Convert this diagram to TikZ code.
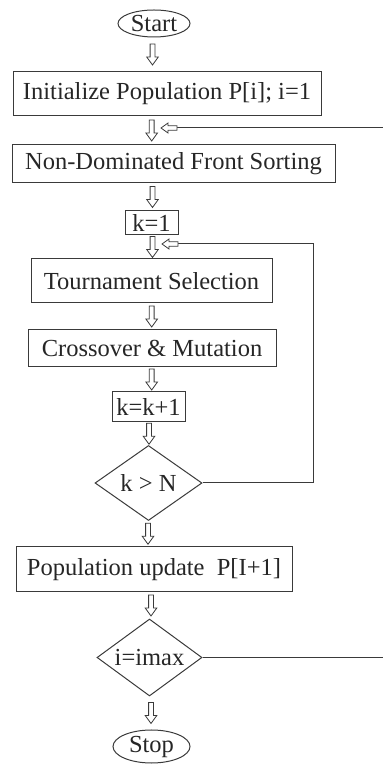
\documentclass[tikz,border=0pt]{standalone}
\usepackage{fontspec}
\setmainfont{Liberation Serif}
\usetikzlibrary{shapes.geometric,calc}
\definecolor{linec}{HTML}{3A3A3A}
\definecolor{txtc}{HTML}{262626}
\newcommand\fsz{\fontsize{24.5}{28}\selectfont}
% hollow block arrow pointing down, centred between two nodes, at x = #3
\newcommand\barrow[3]{%
  \draw[blk] let \p1=(#1.south), \p2=(#2.north), \n1={(\y1+\y2)/2} in
   ({#3pt-2.4pt},{\n1+10.5pt}) -- ({#3pt-2.4pt},{\n1-2.5pt}) --
   ({#3pt-5.8pt},{\n1-2.5pt}) -- ({#3pt},{\n1-10.5pt}) --
   ({#3pt+5.8pt},{\n1-2.5pt}) -- ({#3pt+2.4pt},{\n1-2.5pt}) --
   ({#3pt+2.4pt},{\n1+10.5pt}) -- cycle;}
% hollow block arrow pointing left, tail at coordinate #1
\newcommand\larrow[1]{%
  \draw[blk] let \p1=(#1) in
   (\x1,{\y1+2.2pt}) -- ({\x1-9pt},{\y1+2.2pt}) -- ({\x1-9pt},{\y1+5pt}) --
   ({\x1-16pt},\y1) -- ({\x1-9pt},{\y1-5pt}) -- ({\x1-9pt},{\y1-2.2pt}) --
   (\x1,{\y1-2.2pt}) -- cycle;}
\tikzset{
  box/.style={draw=linec, line width=1pt, inner sep=0pt, text=txtc, font=\fsz},
  term/.style={box, ellipse},
  dec/.style={box, diamond, aspect=1.43},
  blk/.style={draw=linec, line width=0.8pt, fill=white, line join=miter},
  link/.style={draw=linec, line width=1pt}
}
\begin{document}
\begin{tikzpicture}[x=1pt,y=1pt]
\useasboundingbox (0,0) rectangle (383,766);
\node[term, minimum width=72, minimum height=27] (start) at (154,742.5) {Start};
\node[box, minimum width=308, minimum height=44] (init) at (167,672) {Initialize Population P[i]; i=1};
\node[box, minimum width=323, minimum height=38] (nd) at (173.5,602) {Non-Dominated Front Sorting};
\node[box, minimum width=53, minimum height=24] (k1) at (151.5,543) {k=1};
\node[box, minimum width=241, minimum height=44] (tour) at (151.5,485) {Tournament Selection};
\node[box, minimum width=248, minimum height=37] (cross) at (152,417.5) {Crossover \& Mutation};
\node[box, minimum width=73, minimum height=30] (kk) at (148.5,359) {k=k+1};
\node[dec, minimum width=107, minimum height=75] (d1) at (148.5,283) {k > N};
\node[box, minimum width=276, minimum height=45] (pop) at (154,196.5) {Population update\ \ P[I+1]};
\node[dec, minimum width=105, minimum height=77] (d2) at (149.5,108.5) {i=imax};
\node[term, minimum width=77, minimum height=33] (stop) at (151.5,19.5) {Stop};

\barrow{start}{init}{152.5}
\barrow{init}{nd}{151.7}
\barrow{nd}{k1}{152.5}
\barrow{k1}{tour}{152.5}
\barrow{tour}{cross}{151.7}
\barrow{cross}{kk}{151.7}
\barrow{kk}{d1}{149}
\barrow{d1}{pop}{148}
\barrow{pop}{d2}{151}
\barrow{d2}{stop}{151}

% inner loop
\coordinate (lt) at (178,522);
\draw[link] (d1.east) -| (313,522) -- (lt);
\larrow{lt}
% outer loop (runs off the right edge)
\coordinate (ot) at (177,638);
\begin{scope}
\clip (0,0) rectangle (383,766);
\draw[link] (d2.east) -- (395,108.5) -- (395,638) -- (ot);
\end{scope}
\larrow{ot}
\end{tikzpicture}
\end{document}
